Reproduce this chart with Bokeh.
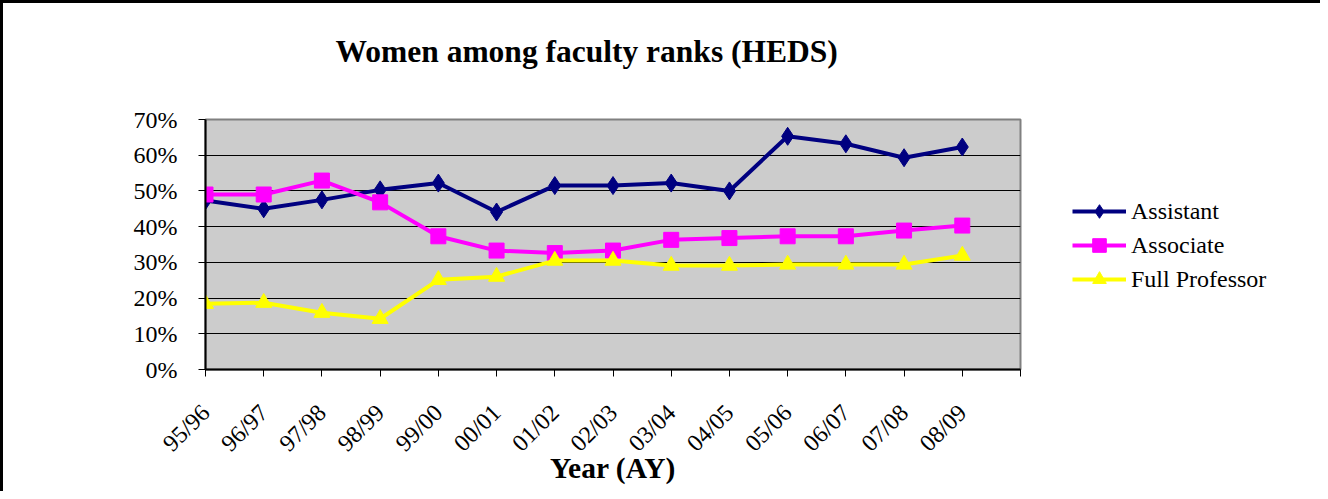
from bokeh.plotting import figure
from bokeh.models import (Legend, LegendItem, FixedTicker, PrintfTickFormatter,
                          Range1d, Title)
from bokeh.layouts import row
from bokeh.embed import file_html
from bokeh.resources import INLINE
import math

categories = ["95/96", "96/97", "97/98", "98/99", "99/00", "00/01", "01/02",
              "02/03", "03/04", "04/05", "05/06", "06/07", "07/08", "08/09"]
assistant = [47.3, 45.0, 47.5, 50.3, 52.2, 44.1, 51.5, 51.5, 52.2, 50.0, 65.3, 63.2, 59.3, 62.3]
associate = [49.0, 49.0, 52.9, 46.8, 37.3, 33.3, 32.6, 33.3, 36.3, 36.8, 37.3, 37.3, 38.9, 40.3]
full_prof = [18.4, 18.7, 15.9, 14.2, 25.1, 26.0, 30.5, 30.5, 29.1, 29.1, 29.4, 29.4, 29.4, 31.9]
series_names = ["Assistant", "Associate", "Full Professor"]
y_ticks = [0, 10, 20, 30, 40, 50, 60, 70]

SERIF = "Liberation Serif"
xs = list(range(len(categories)))
styles = [
    dict(color="#000080", marker="diamond", size=18),
    dict(color="#FF00FF", marker="square", size=15),
    dict(color="#FFFF00", marker="triangle", size=16),
]

p = figure(width=1047, height=488, output_backend="svg", toolbar_location=None,
           x_range=Range1d(0, len(categories)), y_range=Range1d(0, 70),
           min_border_left=202, min_border_right=30, min_border_top=116,
           min_border_bottom=122)

p.background_fill_color = "#CCCCCC"
p.border_fill_color = "white"
p.outline_line_color = "#808080"
p.outline_line_width = 2

# main title, with a thin spacer panel between it and the plot area
p.title.text = "Women among faculty ranks (HEDS)"
p.title.align = "left"
p.title.offset = 130
p.title.standoff = 0
p.title.vertical_align = "bottom"
p.title.text_font = SERIF
p.title.text_font_size = "31.5px"
p.title.text_font_style = "bold"
p.title.text_color = "black"
spacer = Title(text=" ", text_font_size="1px", standoff=48)
p.add_layout(spacer, "above")

# grid
p.xgrid.visible = False
p.ygrid.ticker = FixedTicker(ticks=y_ticks)
p.ygrid.grid_line_color = "black"
p.ygrid.grid_line_width = 1

# y axis
p.yaxis.ticker = FixedTicker(ticks=y_ticks)
p.yaxis.formatter = PrintfTickFormatter(format="%d%%")
p.yaxis.major_label_text_font = SERIF
p.yaxis.major_label_text_font_size = "24px"
p.yaxis.major_label_text_color = "black"
p.yaxis.major_label_standoff = 21
p.yaxis.axis_line_color = "black"
p.yaxis.axis_line_width = 2
p.yaxis.major_tick_in = 0
p.yaxis.major_tick_out = 7
p.yaxis.major_tick_line_color = "black"
p.yaxis.minor_tick_line_color = None

# x axis
p.xaxis.ticker = FixedTicker(ticks=list(range(len(categories) + 1)))
p.xaxis.major_label_overrides = {i: c for i, c in enumerate(categories)} | {len(categories): ""}
p.xaxis.major_label_orientation = math.pi / 4
p.xaxis.major_label_text_font = SERIF
p.xaxis.major_label_text_font_size = "24px"
p.xaxis.major_label_text_color = "black"
p.xaxis.major_label_standoff = 32
p.xaxis.axis_line_color = "black"
p.xaxis.axis_line_width = 2
p.xaxis.major_tick_in = 0
p.xaxis.major_tick_out = 7
p.xaxis.major_tick_line_color = "black"
p.xaxis.minor_tick_line_color = None
p.xaxis.axis_label = "Year (AY)"
p.xaxis.axis_label_text_font = SERIF
p.xaxis.axis_label_text_font_size = "29.5px"
p.xaxis.axis_label_text_font_style = "bold"
p.xaxis.axis_label_text_color = "black"
p.xaxis.axis_label_standoff = -17

# series
for vals, st in zip([assistant, associate, full_prof], styles):
    p.line(xs, vals, line_color=st["color"], line_width=4)
    p.scatter(xs, vals, marker=st["marker"], size=st["size"],
              fill_color=st["color"], line_color=st["color"])

# legend panel (separate canvas so it is not clipped by the plot area)
lg = figure(width=270, height=488, output_backend="svg", toolbar_location=None,
            x_range=Range1d(0, 1), y_range=Range1d(0, 1),
            x_axis_type=None, y_axis_type=None, min_border=0)
lg.grid.visible = False
lg.outline_line_color = None
lg.background_fill_color = "white"
lg.border_fill_color = "white"

items = []
for name, st in zip(series_names, styles):
    rl = lg.line([math.nan], [math.nan], line_color=st["color"], line_width=4)
    rm = lg.scatter([math.nan], [math.nan], marker=st["marker"], size=st["size"],
                    fill_color=st["color"], line_color=st["color"])
    items.append(LegendItem(label=name, renderers=[rl, rm]))

legend = Legend(items=items, location=(22, 73))
legend.border_line_color = None
legend.background_fill_alpha = 0
legend.label_text_font = SERIF
legend.label_text_font_size = "24px"
legend.label_text_color = "black"
legend.glyph_width = 54
legend.glyph_height = 34
legend.label_height = 34
legend.spacing = 0
legend.padding = 0
legend.margin = 0
legend.label_standoff = 5
lg.add_layout(legend)

layout = row(p, lg, styles={"border-left": "3px solid black", "border-top": "3px solid black"})

open("out.html", "w").write(file_html(layout, INLINE))
